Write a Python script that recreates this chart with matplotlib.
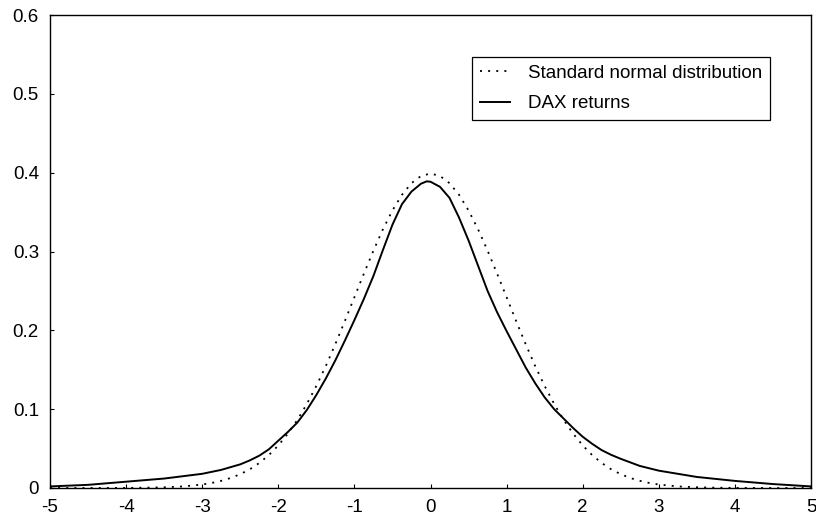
import matplotlib
matplotlib.use("Agg")
import matplotlib.pyplot as plt

plt.rcParams['font.family'] = ['Liberation Sans', 'DejaVu Sans']

# Standard normal density
normal_x = [-5.0, -4.5, -4.0, -3.75, -3.5, -3.25, -3.0, -2.875, -2.75, -2.625, -2.5, -2.375,
            -2.25, -2.125, -2.0, -1.875, -1.75, -1.625, -1.5, -1.375, -1.25, -1.125,
            -1.0, -0.875, -0.75, -0.625, -0.5, -0.375, -0.25, -0.125, 0.0,
            0.125, 0.25, 0.375, 0.5, 0.625, 0.75, 0.875, 1.0, 1.125, 1.25, 1.375,
            1.5, 1.625, 1.75, 1.875, 2.0, 2.125, 2.25, 2.375, 2.5, 2.625, 2.75, 2.875,
            3.0, 3.25, 3.5, 3.75, 4.0, 4.5, 5.0]
normal_y = [0.0, 0.0, 0.0001, 0.0004, 0.0009, 0.0020, 0.0044, 0.0064, 0.0091, 0.0127, 0.0175, 0.0237,
            0.0317, 0.0417, 0.0540, 0.0689, 0.0863, 0.1066, 0.1295, 0.1548, 0.1826, 0.2119,
            0.2420, 0.2720, 0.3011, 0.3282, 0.3521, 0.3719, 0.3867, 0.3958, 0.3989,
            0.3958, 0.3867, 0.3719, 0.3521, 0.3282, 0.3011, 0.2720, 0.2420, 0.2119, 0.1826, 0.1548,
            0.1295, 0.1066, 0.0863, 0.0689, 0.0540, 0.0417, 0.0317, 0.0237, 0.0175, 0.0127, 0.0091, 0.0064,
            0.0044, 0.0020, 0.0009, 0.0004, 0.0001, 0.0, 0.0]

# DAX returns density
dax_x = [-5.0, -4.5, -4.0, -3.5, -3.25, -3.0, -2.75, -2.5, -2.375, -2.25, -2.125, -2.0,
         -1.875, -1.75, -1.625, -1.5, -1.375, -1.25, -1.125, -1.0, -0.875, -0.75, -0.625,
         -0.5, -0.375, -0.25, -0.125, -0.05, 0.0, 0.125, 0.25, 0.375, 0.5, 0.625, 0.75,
         0.875, 1.0, 1.125, 1.25, 1.375, 1.5, 1.625, 1.75, 1.875, 2.0, 2.125, 2.25,
         2.375, 2.5, 2.75, 3.0, 3.25, 3.5, 4.0, 4.5, 5.0]
dax_y = [0.002, 0.004, 0.008, 0.012, 0.015, 0.018, 0.023, 0.030, 0.035, 0.041, 0.049, 0.060,
         0.071, 0.083, 0.099, 0.118, 0.139, 0.162, 0.187, 0.213, 0.240, 0.269, 0.302,
         0.334, 0.360, 0.376, 0.386, 0.389, 0.3885, 0.382, 0.368, 0.343, 0.314, 0.282, 0.250,
         0.223, 0.199, 0.176, 0.153, 0.133, 0.115, 0.100, 0.088, 0.076, 0.065, 0.056, 0.048,
         0.042, 0.037, 0.028, 0.022, 0.018, 0.014, 0.009, 0.005, 0.002]

x_ticks = [-5, -4, -3, -2, -1, 0, 1, 2, 3, 4, 5]
x_labels = ['-5', '-4', '-3', '-2', '-1', '0', '1', '2', '3', '4', '5']
y_ticks = [0, 0.1, 0.2, 0.3, 0.4, 0.5, 0.6]
y_labels = ['0', '0.1', '0.2', '0.3', '0.4', '0.5', '0.6']

fig = plt.figure(figsize=(8.16, 5.18), dpi=100)
ax = fig.add_axes([50/816, 30/518, 761/816, 473/518])

ax.plot(normal_x, normal_y, color='black', lw=1.3, linestyle=(0, (1.1, 3.4)),
        label='Standard normal distribution')
ax.plot(dax_x, dax_y, color='black', lw=1.4, label='DAX returns')

ax.set_xlim(-5, 5)
ax.set_ylim(0, 0.6)
ax.set_xticks(x_ticks)
ax.set_xticklabels(x_labels)
ax.set_yticks(y_ticks)
ax.set_yticklabels(y_labels)
ax.tick_params(direction='in', length=3, width=0.8, labelsize=13.5, pad=8,
               top=False, right=False)
for s in ax.spines.values():
    s.set_linewidth(1.0)
    s.set_color('black')

leg = ax.legend(loc='upper left', bbox_to_anchor=(472/816, 1 - 57/518),
                bbox_transform=fig.transFigure, fontsize=13.5, frameon=True,
                fancybox=False, edgecolor='black', framealpha=1,
                handlelength=1.6, handletextpad=1.0, labelspacing=0.72,
                borderpad=0.4, borderaxespad=0)
leg.get_frame().set_linewidth(0.9)

fig.savefig('out.png', dpi=100)
